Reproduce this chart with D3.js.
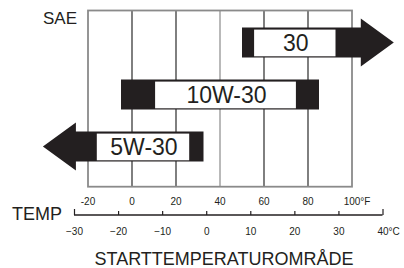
<!DOCTYPE html>
<html>
<head>
<meta charset="utf-8">
<script src="https://cdn.jsdelivr.net/npm/d3@7"></script>
<style>
  body { margin: 0; background: #fff; }
  svg { display: block; font-family: "Liberation Sans", Arial, sans-serif; }
</style>
</head>
<body>
<div id="chart"></div>
<script>
const width = 404;
const height = 268;

// oil grades and their temperature ranges (°F)
const grades = ["30", "10W-30", "5W-30"];
const barFrom = [50, -5, -40.5];      // arrow tips included
const barTo = [119, 85, 32.5];
const labelFrom = [55.5, 10.5, -16];  // white label box
const labelTo = [92.5, 74.5, 26];
const arrowDir = ["right", "none", "left"];

// temperature ticks
const fTicks = [-20, 0, 20, 40, 60, 80, 100];
const cTicks = [-30, -20, -10, 0, 10, 20, 30, 40];

const ink = "#231f20";
const plot = { top: 10.5, bottom: 186.7, left: 88, right: 352 };

const x = d3.scaleLinear().domain([-20, 100]).range([plot.left, plot.right]);
const xc = d3.scaleLinear().domain([-30, 40]).range([74, 382.5]);
const y = d3.scalePoint().domain(grades).range([42.6, 146.6]);

const barH = 30;
const headLen = 33;
const headHalf = 24;

const svg = d3.select("#chart").append("svg")
  .attr("width", width)
  .attr("height", height);

// grid lines (40 °F line is lighter)
svg.append("g")
  .selectAll("line")
  .data(fTicks.slice(1, -1))
  .join("line")
  .attr("x1", d => x(d)).attr("x2", d => x(d))
  .attr("y1", plot.top).attr("y2", plot.bottom)
  .attr("stroke", d => d === 40 ? "#8a8a8a" : "#2a2a2a")
  .attr("stroke-width", 1.2);

// frame
svg.append("rect")
  .attr("x", plot.left).attr("y", plot.top)
  .attr("width", plot.right - plot.left)
  .attr("height", plot.bottom - plot.top)
  .attr("fill", "none")
  .attr("stroke", "#8a8a8a")
  .attr("stroke-width", 1.8);

// bars
const bars = grades.map((g, i) => ({
  grade: g, from: barFrom[i], to: barTo[i],
  lFrom: labelFrom[i], lTo: labelTo[i], dir: arrowDir[i]
}));

function barPath(d) {
  const cy = y(d.grade);
  const t = cy - barH / 2, b = cy + barH / 2;
  let x0 = x(d.from), x1 = x(d.to);
  const p = d3.path();
  if (d.dir === "right") {
    const base = x1 - headLen;
    p.moveTo(x0, t); p.lineTo(base, t); p.lineTo(base, cy - headHalf);
    p.lineTo(x1, cy); p.lineTo(base, cy + headHalf); p.lineTo(base, b);
    p.lineTo(x0, b);
  } else if (d.dir === "left") {
    const base = x0 + headLen;
    p.moveTo(x1, t); p.lineTo(base, t); p.lineTo(base, cy - headHalf);
    p.lineTo(x0, cy); p.lineTo(base, cy + headHalf); p.lineTo(base, b);
    p.lineTo(x1, b);
  } else {
    p.rect(x0, t, x1 - x0, barH);
  }
  p.closePath();
  return p.toString();
}

const barG = svg.append("g")
  .selectAll("g")
  .data(bars)
  .join("g");

barG.append("path")
  .attr("d", barPath)
  .attr("fill", ink);

barG.append("rect")
  .attr("x", d => x(d.lFrom))
  .attr("y", d => y(d.grade) - barH / 2 + 2)
  .attr("width", d => x(d.lTo) - x(d.lFrom))
  .attr("height", barH - 3.3)
  .attr("fill", "#fff");

barG.append("text")
  .attr("x", d => (x(d.lFrom) + x(d.lTo)) / 2 + 1)
  .attr("y", d => y(d.grade) + 8.3)
  .attr("text-anchor", "middle")
  .attr("font-size", 23)
  .attr("fill", ink)
  .text(d => d.grade);

// Fahrenheit labels
const fLab = svg.append("g")
  .selectAll("text")
  .data(fTicks)
  .join("text")
  .attr("x", d => x(d))
  .attr("y", 204.5)
  .attr("text-anchor", "middle")
  .attr("font-size", 10)
  .attr("fill", ink)
  .text(d => d);

// Celsius axis
const cAxis = svg.append("g")
  .attr("transform", "translate(0,215)")
  .call(d3.axisBottom(xc).tickValues(cTicks).tickSize(-4).tickSizeOuter(0).tickPadding(12.5));
cAxis.select(".domain").remove();
cAxis.insert("line", ":first-child")
  .attr("x1", xc(-30)).attr("x2", xc(40))
  .attr("stroke", ink).attr("stroke-width", 1.3);
cAxis.selectAll(".tick line")
  .attr("stroke", ink).attr("stroke-width", 1.2)
  .attr("y2", d => (d === -30 || d === 40) ? -6 : -4);
cAxis.selectAll(".tick text")
  .attr("font-family", "Liberation Sans, Arial, sans-serif")
  .attr("font-size", 10)
  .attr("fill", ink);

// unit suffixes after the last numbers
function addUnit(sel, unit) {
  sel.each(function () {
    const t = d3.select(this);
    const w = this.getComputedTextLength();
    t.attr("text-anchor", "start")
      .attr("x", +t.attr("x") - w / 2 || -w / 2);
    t.append("tspan").text(unit);
  });
}
addUnit(fLab.filter(d => d === 100), "°F");
addUnit(cAxis.selectAll(".tick text").filter(d => d === 40), "°C");

// titles
svg.append("text")
  .attr("x", 43).attr("y", 24)
  .attr("font-size", 17).attr("fill", ink)
  .text("SAE");

svg.append("text")
  .attr("x", 12).attr("y", 220)
  .attr("font-size", 18).attr("fill", ink)
  .text("TEMP");

svg.append("text")
  .attr("x", 224).attr("y", 265)
  .attr("text-anchor", "middle")
  .attr("font-size", 18).attr("fill", ink)
  .text("STARTTEMPERATUROMRÅDE");
</script>
</body>
</html>
